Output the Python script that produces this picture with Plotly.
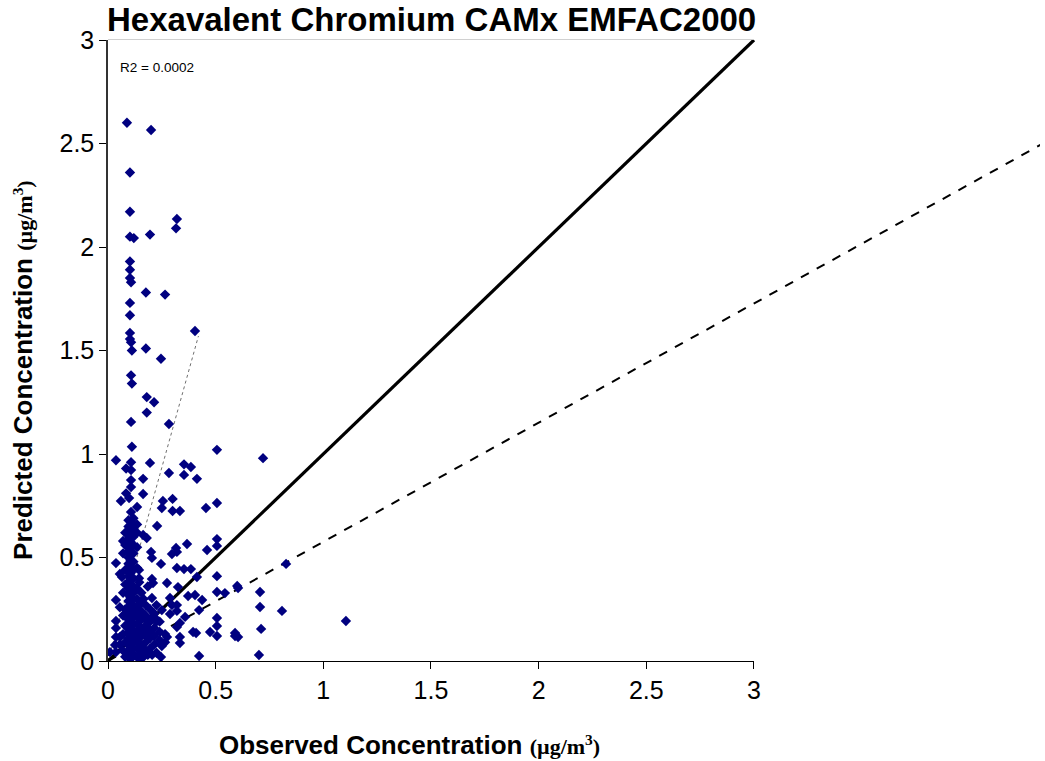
import plotly.graph_objects as go

# ---- data ----
upper_obs = [0.088, 0.20, 0.102, 0.102, 0.32, 0.316, 0.102, 0.12, 0.195, 0.102, 0.102, 0.102, 0.107,
             0.176, 0.265, 0.102, 0.102, 0.404, 0.102, 0.102, 0.107, 0.111, 0.176, 0.246, 0.107, 0.111,
             0.18, 0.214, 0.18, 0.107, 0.283, 0.111]
upper_pred = [2.60, 2.565, 2.36, 2.17, 2.135, 2.09, 2.05, 2.043, 2.06, 1.93, 1.89, 1.85, 1.83,
              1.78, 1.77, 1.73, 1.67, 1.594, 1.585, 1.555, 1.54, 1.50, 1.51, 1.46, 1.38, 1.34,
              1.275, 1.25, 1.20, 1.155, 1.145, 1.035]

mid_obs = [0.506, 0.72, 0.037, 0.195, 0.107, 0.084, 0.107, 0.353, 0.385, 0.283, 0.353, 0.413, 0.163,
           0.107, 0.107, 0.163, 0.084, 0.06, 0.098, 0.255, 0.30, 0.135, 0.25, 0.30, 0.334, 0.455,
           0.506, 0.107, 0.107, 0.107, 0.228, 0.163, 0.18, 0.367, 0.46, 0.506, 0.506, 0.316, 0.297,
           0.32, 0.20, 0.204]
mid_pred = [1.02, 0.98, 0.97, 0.957, 0.96, 0.93, 0.923, 0.95, 0.937, 0.908, 0.899, 0.88, 0.88,
            0.874, 0.84, 0.807, 0.81, 0.773, 0.787, 0.773, 0.783, 0.744, 0.739, 0.725, 0.725, 0.739,
            0.763, 0.72, 0.671, 0.647, 0.652, 0.609, 0.594, 0.565, 0.536, 0.589, 0.556, 0.546, 0.517,
            0.527, 0.527, 0.498]

low_obs = [0.037, 0.246, 0.32, 0.353, 0.385, 0.413, 0.827, 0.144, 0.144, 0.065, 0.204, 0.209, 0.274,
           0.506, 0.325, 0.60, 0.604, 0.372, 0.404, 0.437, 0.706, 0.506, 0.543, 0.037, 0.204, 0.288,
           0.25, 0.297, 0.32, 0.32, 0.288, 0.423, 0.706, 0.808, 1.105, 0.358, 0.204, 0.228, 0.037,
           0.037, 0.506, 0.506, 0.334, 0.32, 0.395, 0.409, 0.474, 0.59, 0.604, 0.59, 0.711, 0.506,
           0.274, 0.25, 0.18, 0.334, 0.334, 0.037, 0.033, 0.037, 0.423, 0.701, 0.153, 0.246, 0.056,
           0.009]
low_pred = [0.473, 0.469, 0.449, 0.444, 0.444, 0.406, 0.469, 0.44, 0.40, 0.406, 0.396, 0.377, 0.377,
            0.41, 0.357, 0.362, 0.353, 0.314, 0.319, 0.295, 0.333, 0.333, 0.328, 0.295, 0.304, 0.304,
            0.246, 0.27, 0.27, 0.242, 0.227, 0.246, 0.261, 0.242, 0.193, 0.213, 0.208, 0.198, 0.193,
            0.159, 0.208, 0.169, 0.184, 0.164, 0.14, 0.135, 0.14, 0.135, 0.116, 0.121, 0.155, 0.121,
            0.116, 0.072, 0.043, 0.116, 0.087, 0.116, 0.077, 0.043, 0.024, 0.029, 0.019, 0.019, 0.116,
            0.043]

dense_obs = ([0.095] * 23 + [0.105] * 21 + [0.118] * 20 + [0.135] * 13 + [0.155] * 8 + [0.175] * 6
             + [0.195] * 5 + [0.215] * 4 + [0.24] * 3 + [0.265] * 2 + [0.07] * 6 + [0.08] * 8
             + [0.145] * 5 + [0.165] * 5 + [0.185] * 4 + [0.205] * 3 + [0.225] * 3 + [0.055] * 3)
dense_pred = ([0.02, 0.05, 0.08, 0.11, 0.14, 0.17, 0.20, 0.23, 0.26, 0.29, 0.32, 0.35, 0.38, 0.41,
               0.44, 0.47, 0.50, 0.53, 0.56, 0.59, 0.62, 0.65, 0.68]
              + [0.01, 0.035, 0.065, 0.095, 0.125, 0.155, 0.185, 0.215, 0.245, 0.275, 0.305, 0.335,
                 0.365, 0.395, 0.425, 0.455, 0.485, 0.515, 0.545, 0.575, 0.605]
              + [0.03, 0.06, 0.09, 0.12, 0.15, 0.18, 0.21, 0.24, 0.27, 0.30, 0.33, 0.36, 0.40, 0.44,
                 0.48, 0.52, 0.56, 0.60, 0.64, 0.69]
              + [0.02, 0.06, 0.10, 0.14, 0.18, 0.22, 0.26, 0.30, 0.35, 0.45, 0.55, 0.62, 0.66]
              + [0.04, 0.08, 0.12, 0.16, 0.20, 0.24, 0.28, 0.33]
              + [0.05, 0.09, 0.13, 0.17, 0.22, 0.27]
              + [0.06, 0.11, 0.15, 0.19, 0.25]
              + [0.08, 0.12, 0.16, 0.23]
              + [0.10, 0.14, 0.19]
              + [0.09, 0.13]
              + [0.05, 0.13, 0.22, 0.33, 0.52, 0.58]
              + [0.02, 0.09, 0.17, 0.25, 0.37, 0.44, 0.56, 0.62]
              + [0.01, 0.07, 0.15, 0.23, 0.38]
              + [0.02, 0.06, 0.14, 0.21, 0.30]
              + [0.03, 0.11, 0.19, 0.36]
              + [0.03, 0.13, 0.21]
              + [0.04, 0.19, 0.27]
              + [0.08, 0.26, 0.42])

obs = upper_obs + mid_obs + low_obs + dense_obs
pred = upper_pred + mid_pred + low_pred + dense_pred

one_to_one_x = [0, 3]
one_to_one_y = [0, 3]
dashed_x = [0, 4.33]
dashed_y = [0, 2.493]
trend_x = [0, 0.42]
trend_y = [0, 1.57]

tick_vals = [0, 0.5, 1, 1.5, 2, 2.5, 3]
tick_text = ["0", "0.5", "1", "1.5", "2", "2.5", "3"]

# ---- figure ----
fig = go.Figure()
fig.add_trace(go.Scatter(x=[0], y=[0], xaxis="x", yaxis="y", mode="markers",
                         marker=dict(opacity=0), showlegend=False, hoverinfo="skip"))
fig.add_trace(go.Scatter(x=trend_x, y=trend_y, mode="lines", xaxis="x2", yaxis="y2",
                         line=dict(color="#707070", width=1, dash="dot"), showlegend=False))
fig.add_trace(go.Scatter(x=one_to_one_x, y=one_to_one_y, mode="lines", xaxis="x2", yaxis="y2",
                         line=dict(color="black", width=3.2), showlegend=False))
fig.add_trace(go.Scatter(x=dashed_x, y=dashed_y, mode="lines", xaxis="x2", yaxis="y2",
                         line=dict(color="black", width=2, dash="dash"), showlegend=False))
fig.add_trace(go.Scatter(x=obs, y=pred, mode="markers", xaxis="x2", yaxis="y2",
                         marker=dict(symbol="diamond", size=8, color="#000080",
                                     line=dict(width=0)),
                         showlegend=False))

axis_font = dict(family="Liberation Sans, Arial, sans-serif", size=25, color="black")
fig.update_layout(
    width=1045, height=761,
    margin=dict(l=108, r=5, t=40, b=100),
    paper_bgcolor="white", plot_bgcolor="white",
    xaxis=dict(domain=[0, 0.6931], range=[0, 3], anchor="y", automargin=False,
               tickvals=tick_vals, ticktext=tick_text, ticks="outside", ticklen=7,
               tickcolor="black", showgrid=False, zeroline=False, showline=True,
               linecolor="black", linewidth=1, tickfont=axis_font),
    yaxis=dict(domain=[0, 1], range=[0, 3], anchor="x", automargin=False,
               tickvals=tick_vals, ticktext=tick_text, ticks="outside", ticklen=7,
               tickcolor="black", showgrid=False, zeroline=False, showline=True,
               linecolor="#333333", linewidth=1.5, tickfont=axis_font),
    xaxis2=dict(domain=[0, 1], range=[0, 3 / 0.6931], anchor="y2", visible=False),
    yaxis2=dict(domain=[0, 1], range=[0, 3], anchor="x2", visible=False),
    shapes=[dict(type="rect", xref="x domain", yref="y domain", x0=0, x1=1, y0=0, y1=1,
                 line=dict(color="#a0a0a0", width=1), layer="below")],
    annotations=[
        dict(text="<b>Hexavalent Chromium CAMx EMFAC2000</b>", xref="paper", yref="paper",
             x=0.3466, y=1.033, xanchor="center", yanchor="middle", showarrow=False,
             font=dict(family="Liberation Sans, Arial, sans-serif", size=33, color="black")),
        dict(text="R2 = 0.0002", xref="x2", yref="y2", x=0.045, y=2.865,
             xanchor="left", yanchor="middle", showarrow=False,
             font=dict(family="Liberation Sans, Arial, sans-serif", size=13.5, color="black")),
        dict(text="<b>Observed Concentration </b><span style=\"font-family:'Liberation Serif',serif;font-size:22px\"><b>(µg/m<sup>3</sup>)</b></span>",
             xref="paper", yref="paper", x=0.323, y=-0.135, xanchor="center", yanchor="middle",
             showarrow=False,
             font=dict(family="Liberation Sans, Arial, sans-serif", size=26, color="black")),
        dict(text="<b>Predicted Concentration </b><span style=\"font-family:'Liberation Serif',serif;font-size:22px\"><b>(µg/m<sup>3</sup>)</b></span>",
             xref="paper", yref="paper", x=-0.091, y=0.469, xanchor="center", yanchor="middle",
             textangle=-90, showarrow=False,
             font=dict(family="Liberation Sans, Arial, sans-serif", size=26, color="black")),
    ],
)

fig.write_html("out.html", config={"displayModeBar": False},
               post_script="document.body.style.margin='0';")
